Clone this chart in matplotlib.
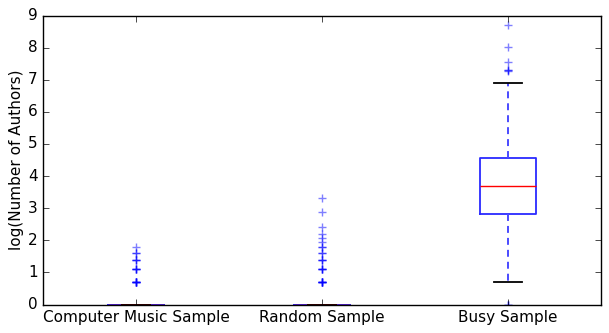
import matplotlib
matplotlib.use("Agg")
import matplotlib.pyplot as plt
import numpy as np

plt.style.use('classic')
plt.rcParams['lines.scale_dashes'] = False

categories = ["Computer Music Sample", "Random Sample", "Busy Sample"]
q1 = [0.0, 0.0, 2.83]
med = [0.0, 0.0, 3.69]
q3 = [0.0, 0.0, 4.56]
whislo = [0.0, 0.0, 0.69]
whishi = [0.0, 0.0, 6.91]
fliers_cms = [0.693] * 6 + [1.099] * 4 + [1.386] * 3 + [1.609] * 2 + [1.792] * 1
fliers_rand = ([0.693] * 6 + [1.099] * 4 + [1.386] * 3 + [1.609] * 2 + [1.792] * 2
               + [1.946] + [2.079] + [2.197] + [2.398] + [2.890] + [3.332])
fliers_busy = [0.0] * 3 + [7.28, 7.31, 7.31, 7.54, 8.03, 8.69]
fliers = [fliers_cms, fliers_rand, fliers_busy]

stats = []
for i, name in enumerate(categories):
    stats.append(dict(label=name, q1=q1[i], med=med[i], q3=q3[i],
                      whislo=whislo[i], whishi=whishi[i], fliers=fliers[i]))

fig = plt.figure(figsize=(6.09, 3.33), dpi=100)
W, H = 609, 333
ax = fig.add_axes([43 / W, (H - 304.5) / H, 558 / W, 289 / H])
ax.bxp(stats, widths=0.3,
       boxprops=dict(color='#2a2aff', linewidth=1.3),
       medianprops=dict(color='r', linewidth=1.0),
       whiskerprops=dict(color='#4a4aff', linestyle=(0, (5.0, 3.6)), linewidth=1.4),
       capprops=dict(color='k', linewidth=1.3),
       flierprops=dict(marker='+', markeredgecolor='b', markerfacecolor='none',
                       linestyle='none', alpha=0.5, markersize=6))
ax.set_xlim(0.5, 3.5)
ax.set_ylim(0, 9)
ax.set_yticks(range(0, 10))
ax.set_ylabel("log(Number of Authors)", fontsize=11, labelpad=3)
ax.tick_params(labelsize=11)
fig.savefig("out.png", dpi=100)
